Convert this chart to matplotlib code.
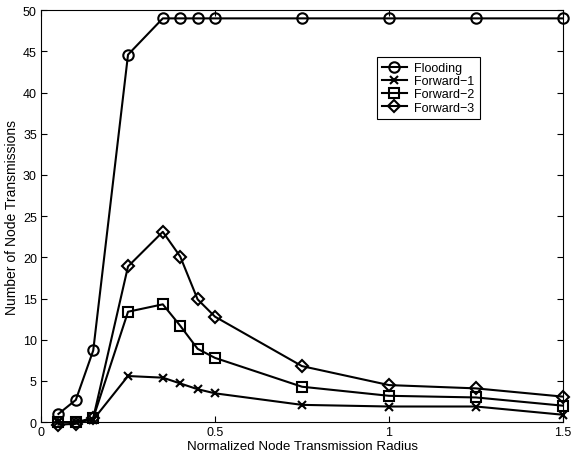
import matplotlib
matplotlib.use('Agg')
import matplotlib.pyplot as plt

radius = [0.05, 0.1, 0.15, 0.25, 0.35, 0.4, 0.45, 0.5, 0.75, 1.0, 1.25, 1.5]
flooding = [1.0, 2.7, 8.7, 44.6, 49, 49, 49, 49, 49, 49, 49, 49]
forward1 = [0.0, 0.0, 0.3, 5.6, 5.4, 4.7, 4.0, 3.5, 2.1, 1.9, 1.9, 0.9]
forward2 = [0.0, 0.0, 0.5, 13.4, 14.3, 11.7, 8.9, 7.8, 4.3, 3.2, 3.0, 2.0]
forward3 = [-0.3, -0.2, 0.5, 18.9, 23.1, 20.1, 14.9, 12.8, 6.8, 4.5, 4.1, 3.1]

plt.rcParams['font.family'] = ['Liberation Sans', 'DejaVu Sans']
plt.rcParams['font.size'] = 9

fig = plt.figure(figsize=(5.78, 4.64), dpi=100, facecolor='white')
ax = fig.add_axes([0.071, 0.088, 0.903, 0.888])

series = [
    (flooding, 'o', 7.5, 'Flooding'),
    (forward1, 'x', 6, 'Forward\u22121'),
    (forward2, 's', 6.5, 'Forward\u22122'),
    (forward3, 'D', 6.3, 'Forward\u22123'),
]
for vals, mk, ms, lab in series:
    ax.plot(radius, vals, color='black', linewidth=1.5, marker=mk, markersize=ms,
            markerfacecolor='none', markeredgecolor='black', markeredgewidth=1.5,
            label=lab, clip_on=False)

ax.set_xlim(0, 1.5)
ax.set_ylim(0, 50)
ax.set_xticks([0, 0.5, 1, 1.5])
ax.set_xticklabels(['0', '0.5', '1', '1.5'])
ax.set_yticks(range(0, 51, 5))
ax.tick_params(direction='in', top=True, right=True, length=4, width=0.8, pad=3)
for s in ax.spines.values():
    s.set_linewidth(0.8)

ax.set_xlabel('Normalized Node Transmission Radius', fontsize=9.6, labelpad=1)
ax.set_ylabel('Number of Node Transmissions', fontsize=10, labelpad=3)

leg = ax.legend(loc='upper left', bbox_to_anchor=(0.652, 0.875), bbox_transform=fig.transFigure,
                frameon=True, fancybox=False, edgecolor='black', framealpha=1,
                handlelength=2.0, handletextpad=0.6, borderpad=0.4, labelspacing=0.1,
                borderaxespad=0)
leg.get_frame().set_linewidth(0.8)

fig.savefig('out.png', dpi=100)
